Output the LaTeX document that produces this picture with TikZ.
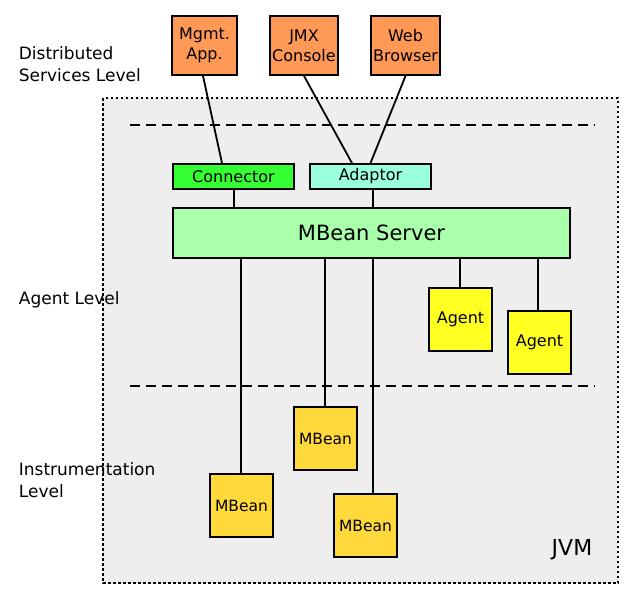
\documentclass[tikz,border=0pt]{standalone}
\usepackage{fontspec}
\setmainfont{DejaVu Sans}
\usepackage{xcolor}
\usepackage{tikz}
\definecolor{appfill}{HTML}{FF9955}
\definecolor{connfill}{HTML}{33FF33}
\definecolor{adapfill}{HTML}{99FFDD}
\definecolor{serverfill}{HTML}{AAFFAA}
\definecolor{agentfill}{HTML}{FFFF22}
\definecolor{mbeanfill}{HTML}{FFD83C}
\definecolor{jvmfill}{HTML}{EEEEEE}

\begin{document}
\begin{tikzpicture}[x=1pt, y=-1pt, line width=1.8pt,
  every node/.style={draw, inner sep=0pt, align=center, font=\fontsize{15.5}{20}\selectfont},
  app/.style={fill=appfill, minimum height=59pt, font=\fontsize{16}{20}\selectfont},
  iface/.style={minimum width=121pt, minimum height=25pt, font=\fontsize{16}{20}\selectfont},
  bean/.style={fill=mbeanfill, minimum size=63pt},
  agt/.style={fill=agentfill, minimum size=63pt, font=\fontsize{16}{20}\selectfont},
  lvl/.style={draw=none, anchor=west, align=left, font=\fontsize{17}{22}\selectfont}]
\useasboundingbox (0,0) rectangle (635,600);
\filldraw[fill=jvmfill, draw=black, line width=1.6pt, dash pattern=on 2.5pt off 2.5pt] (103,98) rectangle (618,583);
\draw[dash pattern=on 10pt off 6pt] (130,125) -- (595,125);
\draw[dash pattern=on 10pt off 6pt] (130,386) -- (595,386);

\node[lvl] (dist) at (18,64) {Distributed\\Services Level};
\node[lvl] (agl) at (18,300) {Agent Level};
\node[lvl] (inst) at (18,480) {Instrumentation\\Level};
\node[draw=none, font=\fontsize{22}{26}\selectfont] (jvm) at (572,550) {JVM};

\node[app, minimum width=65pt] (mgmt) at (204.5,45.5) {Mgmt.\\App.};
\node[app, minimum width=68pt] (jmx) at (304,45.5) {JMX\\Console};
\node[app, minimum width=69pt] (web) at (405.5,45.5) {Web\\Browser};

\node[iface, fill=connfill] (conn) at (233.5,176.5) {Connector};
\node[iface, fill=adapfill] (adap) at (370.5,176.5) {Adaptor};
\node[fill=serverfill, minimum width=397pt, minimum height=50pt, font=\fontsize{21}{24}\selectfont] (server) at (371.5,233) {MBean Server};

\node[agt] (agent1) at (460.5,319.5) {Agent};
\node[agt] (agent2) at (539.5,342.5) {Agent};

\node[bean] (mb1) at (325.5,438.5) {MBean};
\node[bean] (mb2) at (241.5,505.5) {MBean};
\node[bean] (mb3) at (365.5,525.5) {MBean};

\draw ([xshift=-1.5pt]mgmt.south) -- ([xshift=-11.5pt]conn.north);
\draw (jmx.south) -- ([xshift=-18.5pt]adap.north);
\draw (web.south) -- (adap.north);
\draw ([xshift=0.5pt]conn.south) -- ([xshift=0.5pt]conn.south |- server.north);
\draw ([xshift=2.5pt]adap.south) -- ([xshift=2.5pt]adap.south |- server.north);
\draw ([xshift=-0.5pt]mb2.north) -- ([xshift=-0.5pt]mb2.north |- server.south);
\draw ([xshift=-0.5pt]mb1.north) -- ([xshift=-0.5pt]mb1.north |- server.south);
\draw ([xshift=7.5pt]mb3.north) -- ([xshift=7.5pt]mb3.north |- server.south);
\draw ([xshift=-0.5pt]agent1.north) -- ([xshift=-0.5pt]agent1.north |- server.south);
\draw ([xshift=-1.5pt]agent2.north) -- ([xshift=-1.5pt]agent2.north |- server.south);
\end{tikzpicture}
\end{document}
